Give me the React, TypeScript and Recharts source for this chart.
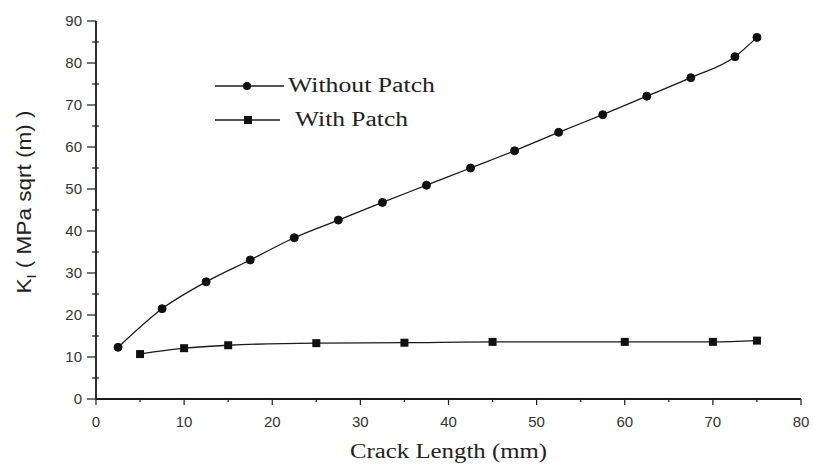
import React from 'react';
import { LineChart, Line, XAxis, YAxis, Legend } from 'recharts';

const crackWithout = [2.5, 7.5, 12.5, 17.5, 22.5, 27.5, 32.5, 37.5, 42.5, 47.5, 52.5, 57.5, 62.5, 67.5, 72.5, 75];
const kWithout = [12.3, 21.5, 27.9, 33.1, 38.4, 42.6, 46.8, 50.9, 55.0, 59.1, 63.5, 67.7, 72.1, 76.5, 81.5, 86.1];
const crackWith = [5, 10, 15, 25, 35, 45, 60, 70, 75];
const kWith = [10.7, 12.1, 12.8, 13.3, 13.4, 13.6, 13.6, 13.6, 13.9];

const xTickValues = [0, 5, 10, 15, 20, 25, 30, 35, 40, 45, 50, 55, 60, 65, 70, 75, 80];
const yTickValues = [0, 5, 10, 15, 20, 25, 30, 35, 40, 45, 50, 55, 60, 65, 70, 75, 80, 85, 90];
const xMajorLabels = [0, 10, 20, 30, 40, 50, 60, 70, 80];
const yMajorLabels = [0, 10, 20, 30, 40, 50, 60, 70, 80, 90];

const seriesNames = ['Without Patch', 'With Patch'];

const withoutData = crackWithout.map((x, i) => ({ x, k: kWithout[i] }));
const withData = crackWith.map((x, i) => ({ x, k: kWith[i] }));

const SANS = "'Liberation Sans', Arial, sans-serif";
const SERIF = "'Liberation Serif', 'Times New Roman', serif";
const INK = '#1a1a1a';

const XTick = (props: any) => {
  const { x, y, payload } = props;
  const v = payload.value;
  const major = xMajorLabels.includes(v);
  return (
    <g>
      <line x1={x} x2={x} y1={y} y2={y + (major ? 6 : 3)} stroke={INK} strokeWidth={1.2} />
      {major && (
        <text x={x} y={y + 28} textAnchor="middle" fontSize={15} fontFamily={SANS} fill="#333">
          {v}
        </text>
      )}
    </g>
  );
};

const YTick = (props: any) => {
  const { x, y, payload } = props;
  const v = payload.value;
  const major = yMajorLabels.includes(v);
  return (
    <g>
      <line x1={major ? x - 9 : x - 4} x2={major ? x : x + 3} y1={y} y2={y} stroke={INK} strokeWidth={1.2} />
      {major && (
        <text x={x - 14} y={y + 5} textAnchor="end" fontSize={15} fontFamily={SANS} fill="#333">
          {v}
        </text>
      )}
    </g>
  );
};

const SquareDot = (p: any) => (
  <rect key={`sq-${p.index}`} x={p.cx - 4} y={p.cy - 4} width={8} height={8} fill="#111" />
);

const LegendContent = () => (
  <svg width={250} height={64} style={{ display: 'block' }}>
    <line x1={5} x2={74} y1={14} y2={14} stroke={INK} strokeWidth={1.3} />
    <circle cx={37} cy={14} r={4} fill="#111" />
    <text x={78} y={20} fontSize={20} fontFamily={SERIF} fill="#222" textLength={147} lengthAdjust="spacingAndGlyphs">
      {seriesNames[0]}
    </text>
    <line x1={5} x2={70} y1={48} y2={48} stroke={INK} strokeWidth={1.3} />
    <rect x={34} y={44} width={8} height={8} fill="#111" />
    <text x={85} y={54} fontSize={20} fontFamily={SERIF} fill="#222" textLength={113} lengthAdjust="spacingAndGlyphs">
      {seriesNames[1]}
    </text>
  </svg>
);

export default function App() {
  return (
    <div style={{ position: 'absolute', left: 0, top: 0, background: '#fff' }}>
      <LineChart width={813} height={465} margin={{ top: 21, right: 12, left: 0, bottom: 0 }}>
        <XAxis
          xAxisId="main"
          dataKey="x"
          type="number"
          domain={[0, 80]}
          ticks={xTickValues}
          interval={0}
          height={66}
          tickSize={0}
          tickMargin={0}
          tickLine={false}
          tick={<XTick />}
          axisLine={{ stroke: INK, strokeWidth: 1.8 }}
          label={{
            content: () => (
              <text x={448.5} y={458} textAnchor="middle" fontSize={20} fontFamily={SERIF} fill="#222" textLength={197} lengthAdjust="spacingAndGlyphs">
                Crack Length (mm)
              </text>
            ),
          }}
        />
        <XAxis
          xAxisId="top"
          orientation="top"
          type="number"
          domain={[0, 80]}
          height={0}
          tick={false}
          tickLine={false}
          axisLine={{ stroke: INK, strokeWidth: 1.8 }}
        />
        <YAxis
          yAxisId="main"
          type="number"
          domain={[0, 90]}
          ticks={yTickValues}
          interval={0}
          width={96}
          tickSize={0}
          tickMargin={0}
          tickLine={false}
          tick={<YTick />}
          axisLine={{ stroke: INK, strokeWidth: 1.8 }}
          label={{
            content: () => (
              <text
                transform="translate(31, 202) rotate(-90)"
                textAnchor="middle"
                fontSize={20}
                fontFamily={SANS}
                fill="#222"
                textLength={183}
                lengthAdjust="spacingAndGlyphs"
              >
                <tspan>K</tspan>
                <tspan fontSize={13} dy={5}>I</tspan>
                <tspan dy={-5}>{'  ( MPa sqrt (m)  )'}</tspan>
              </text>
            ),
          }}
        />
        <YAxis
          yAxisId="right"
          orientation="right"
          type="number"
          domain={[0, 90]}
          width={0}
          tick={false}
          tickLine={false}
          axisLine={{ stroke: INK, strokeWidth: 1.8 }}
        />
        <Legend
          layout="vertical"
          align="center"
          verticalAlign="middle"
          wrapperStyle={{ left: 210, top: 72, width: 250 }}
          content={<LegendContent />}
        />
        <Line
          name={seriesNames[0]}
          data={withoutData}
          xAxisId="main"
          yAxisId="main"
          dataKey="k"
          type="monotone"
          stroke={INK}
          strokeWidth={1.3}
          dot={{ r: 4, fill: '#111', stroke: '#111', strokeWidth: 1 }}
          activeDot={false}
          isAnimationActive={false}
        />
        <Line
          name={seriesNames[1]}
          data={withData}
          xAxisId="main"
          yAxisId="main"
          dataKey="k"
          type="monotone"
          stroke={INK}
          strokeWidth={1.3}
          dot={SquareDot}
          activeDot={false}
          isAnimationActive={false}
        />
      </LineChart>
    </div>
  );
}
